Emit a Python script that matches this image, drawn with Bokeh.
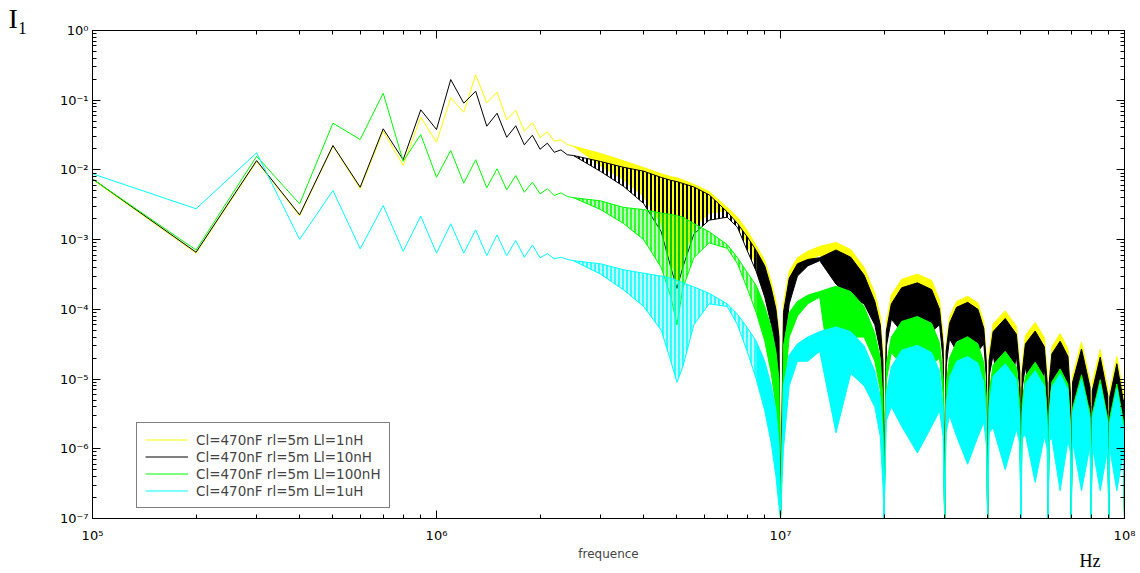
import numpy as np
from bokeh.plotting import figure
from bokeh.models import (LogAxis, LogTicker, CustomJSTickFormatter, Title,
                          Legend, LegendItem, Range1d)
from bokeh.embed import file_html
from bokeh.resources import INLINE

# ---------------- data ----------------
labels = ["Cl=470nF rl=5m Ll=1nH", "Cl=470nF rl=5m Ll=10nH",
          "Cl=470nF rl=5m Ll=100nH", "Cl=470nF rl=5m Ll=1uH"]
colors = ["#FFFF00", "#000000", "#00FF00", "#00FFFF"]
band_fill_alpha = [0.9, 0.0, 0.25, 0.25]
hatch_weight = [1.5, 2.0, 1.5, 1.5]

# individual harmonics (MHz) 0.1 ... 2.5
harm_mhz = [0.1, 0.2, 0.3, 0.4, 0.5, 0.6, 0.7, 0.8, 0.9, 1.0, 1.1, 1.2, 1.3,
            1.4, 1.5, 1.6, 1.7, 1.8, 1.9, 2.0, 2.1, 2.2, 2.3, 2.4, 2.5]
i_yellow_h = [7.3e-3, 6.4e-4, 1.32e-2, 2.2e-3, 2.2e-2, 5.4e-3, 3.6e-2, 1.16e-2, 5.7e-2,
              2.5e-2, 0.108, 0.0673, 0.231, 0.0918, 0.130, 0.0523, 0.0712, 0.0359,
              0.0479, 0.0294, 0.0352, 0.0258, 0.027, 0.0231, 0.0219]
i_black_h = [7.45e-3, 6.6e-4, 1.36e-2, 2.27e-3, 2.24e-2, 5.65e-3, 3.89e-2, 1.40e-2, 7.28e-2,
             3.8e-2, 0.198, 0.0906, 0.1346, 0.0424, 0.065, 0.0294, 0.043, 0.0229,
             0.0315, 0.0198, 0.0242, 0.0179, 0.0194, 0.0165, 0.0161]
i_green_h = [7.4e-3, 7.1e-4, 1.57e-2, 3.26e-3, 4.68e-2, 2.73e-2, 0.126, 1.33e-2, 3.22e-2,
             7.85e-3, 1.9e-2, 6.44e-3, 1.40e-2, 5.54e-3, 1.04e-2, 5.18e-3, 8.3e-3, 4.79e-3,
             6.67e-3, 4.54e-3, 5.36e-3, 4.29e-3, 4.69e-3, 4.15e-3, 4.0e-3]
i_cyan_h = [8.8e-3, 2.77e-3, 1.76e-2, 1.01e-3, 5.06e-3, 7.4e-4, 3.08e-3, 6.8e-4, 2.17e-3,
            6.4e-4, 1.69e-3, 6.4e-4, 1.38e-3, 5.9e-4, 1.17e-3, 5.9e-4, 9.7e-4, 5.6e-4,
            8.4e-4, 5.5e-4, 6.3e-4, 5.3e-4, 5.6e-4, 5.2e-4, 5.0e-4]

# dense part: upper / lower envelope of the harmonic comb (MHz)
env_mhz = [2.5, 3.0, 3.5, 4.0, 4.5, 4.8, 5.0, 5.2, 5.6, 6.2, 7.0, 7.5, 8.0, 8.5, 9.0, 9.4, 9.7, 9.9, 10.0,
           10.2, 10.6, 11.2, 12, 13, 14.5, 16, 17.5, 18.8, 19.5, 19.85, 20,
           20.3, 21, 22.5, 25, 27.5, 29, 29.7, 30,
           30.3, 31, 32.5, 35, 37.5, 39, 39.7, 40,
           40.4, 41.5, 45, 48.5, 49.6, 50,
           50.4, 51.5, 55, 58.5, 59.6, 60,
           60.4, 61.5, 65, 68.5, 69.6, 70,
           70.6, 75, 79.4, 80,
           80.6, 85, 89.4, 90,
           90.6, 95, 99.4, 100]

up_yellow = [0.0219, 0.0172, 0.0135, 0.0108, 0.0088, 0.0080, 0.0077, 0.0072, 0.0062, 0.0049, 0.0029, 0.0021, 0.00135, 0.00082, 0.00050, 0.00025, 0.00013, 0.00005, 1e-7,
             1.2e-4, 3.5e-4, 5.5e-4, 6.8e-4, 8.0e-4, 9.1e-4, 7.2e-4, 4.0e-4, 1.7e-4, 8e-5, 2.5e-5, 1e-7,
             6.4e-5, 1.6e-4, 2.7e-4, 3.2e-4, 2.6e-4, 1.35e-4, 4.2e-5, 1e-7,
             3.1e-5, 7.7e-5, 1.3e-4, 1.54e-4, 1.23e-4, 6.5e-5, 2e-5, 1e-7,
             2.4e-5, 6.2e-5, 9.5e-5, 5.7e-5, 1.7e-5, 1e-7,
             1.6e-5, 4.2e-5, 6.5e-5, 3.9e-5, 1.2e-5, 1e-7,
             1.1e-5, 2.9e-5, 4.5e-5, 2.7e-5, 8.1e-6, 1e-7,
             1.1e-5, 3.4e-5, 9.5e-6, 1e-7,
             8.7e-6, 2.65e-5, 7.4e-6, 1e-7,
             6.9e-6, 2.1e-5, 5.9e-6, 1e-7]
lo_yellow = [0.0219, 0.0115, 0.0072, 0.0042, 0.0017, 0.0005, 0.00025, 0.0005, 0.0015, 0.0024, 0.0026, 0.0018, 0.00085, 0.00042, 0.00018, 0.00007, 0.000018, 0.0000036, 1e-7,
             2.5e-5, 1.5e-4, 3.6e-4, 5e-4, 6e-4, 2.8e-4, 1.8e-4, 1.4e-4, 7e-5, 3e-5, 6e-6, 1e-7,
             3.8e-5, 9.6e-5, 6.4e-5, 9.6e-6, 6.4e-5, 8e-5, 2.6e-5, 1e-7,
             1.8e-5, 4.6e-5, 3.1e-5, 4.6e-6, 3.1e-5, 3.9e-5, 1.2e-5, 1e-7,
             1.4e-5, 2.9e-5, 3.8e-6, 2.7e-5, 9.5e-6, 1e-7,
             9.8e-6, 2e-5, 2.6e-6, 1.8e-5, 6.5e-6, 1e-7,
             6.8e-6, 1.35e-5, 1.8e-6, 1.26e-5, 4.5e-6, 1e-7,
             6.8e-6, 1.7e-6, 5.8e-6, 1e-7,
             5.3e-6, 1.3e-6, 4.5e-6, 1e-7,
             4.2e-6, 1.05e-6, 3.6e-6, 1e-7]

up_black = [0.0161, 0.0132, 0.0109, 0.0096, 0.0078, 0.0071, 0.0068, 0.0064, 0.0057, 0.0044, 0.0025, 0.0017, 0.0011, 0.0007, 0.00042, 0.0002, 0.0001, 0.00004, 1e-7,
            9e-5, 2.8e-4, 4.5e-4, 5.2e-4, 5.5e-4, 7.1e-4, 5.6e-4, 3.1e-4, 1.3e-4, 6e-5, 1.8e-5, 1e-7,
            4.8e-5, 1.2e-4, 2.04e-4, 2.4e-4, 1.92e-4, 1.0e-4, 3.1e-5, 1e-7,
            2.5e-5, 6.3e-5, 1.07e-4, 1.26e-4, 1.0e-4, 5.3e-5, 1.6e-5, 1e-7,
            1.85e-5, 4.8e-5, 7.4e-5, 4.4e-5, 1.3e-5, 1e-7,
            1.2e-5, 3.2e-5, 4.9e-5, 2.9e-5, 8.8e-6, 1e-7,
            8.8e-6, 2.3e-5, 3.5e-5, 2.1e-5, 6.3e-6, 1e-7,
            8.9e-6, 2.7e-5, 7.6e-6, 1e-7,
            6.8e-6, 2.07e-5, 5.8e-6, 1e-7,
            5.5e-6, 1.66e-5, 4.6e-6, 1e-7]
lo_black = [0.0161, 0.0095, 0.0058, 0.0033, 0.0013, 0.0004, 0.0002, 0.0004, 0.0012, 0.0019, 0.0021, 0.0015, 0.0007, 0.00035, 0.00015, 0.00006, 0.000015, 0.000003, 1e-7,
            2e-5, 1.2e-4, 3e-4, 4.2e-4, 5e-4, 2.3e-4, 1.5e-4, 1.2e-4, 6e-5, 2.5e-5, 5e-6, 1e-7,
            2.9e-5, 7.2e-5, 4.8e-5, 7.2e-6, 4.8e-5, 6e-5, 1.9e-5, 1e-7,
            1.5e-5, 3.8e-5, 2.5e-5, 3.8e-6, 2.5e-5, 3.2e-5, 1e-5, 1e-7,
            1.1e-5, 2.2e-5, 3e-6, 2.1e-5, 7.4e-6, 1e-7,
            7.4e-6, 1.5e-5, 2e-6, 1.4e-5, 4.9e-6, 1e-7,
            5.3e-6, 1.05e-5, 1.4e-6, 9.8e-6, 3.5e-6, 1e-7,
            5.4e-6, 1.35e-6, 4.6e-6, 1e-7,
            4.1e-6, 1e-6, 3.5e-6, 1e-7,
            3.3e-6, 8.3e-7, 2.8e-6, 1e-7]

up_green = [0.0040, 0.0036, 0.0029, 0.0027, 0.0024, 0.0023, 0.0022, 0.0021, 0.0017, 0.0013, 0.00085, 0.00055, 0.00034, 0.00022, 0.00011, 0.000055, 0.000025, 0.00001, 1e-7,
            3e-5, 9e-5, 1.3e-4, 1.6e-4, 1.8e-4, 2.15e-4, 1.8e-4, 1.1e-4, 4.5e-5, 2e-5, 5e-6, 1e-7,
            1.6e-5, 4e-5, 6.7e-5, 7.9e-5, 6.3e-5, 3.3e-5, 1e-5, 1e-7,
            8.1e-6, 2e-5, 3.4e-5, 4.05e-5, 3.2e-5, 1.7e-5, 5.3e-6, 1e-7,
            6.3e-6, 1.6e-5, 2.5e-5, 1.5e-5, 4.5e-6, 1e-7,
            4.4e-6, 1.1e-5, 1.75e-5, 1.05e-5, 3.2e-6, 1e-7,
            3.5e-6, 9.1e-6, 1.4e-5, 8.4e-6, 2.5e-6, 1e-7,
            3.8e-6, 1.15e-5, 3.2e-6, 1e-7,
            3.2e-6, 9.8e-6, 2.7e-6, 1e-7,
            2.8e-6, 8.5e-6, 2.4e-6, 1e-7]
lo_green = [0.0040, 0.0027, 0.0017, 0.0010, 0.0004, 0.00015, 0.00006, 0.0002, 0.00055, 0.0009, 0.00075, 0.00045, 0.0002, 0.00009, 0.000035, 0.000012, 0.000004, 0.000001, 1e-7,
            5e-6, 4e-5, 8e-5, 1.2e-4, 1.5e-4, 3e-6, 4e-5, 4e-5, 1.8e-5, 7e-6, 1.5e-6, 1e-7,
            9.5e-6, 2.4e-5, 1.6e-5, 2.4e-6, 1.6e-5, 2e-5, 6.3e-6, 1e-7,
            4.9e-6, 1.2e-5, 8.1e-6, 1.2e-6, 8.1e-6, 1e-5, 3.2e-6, 1e-7,
            3.8e-6, 7.5e-6, 1e-6, 7e-6, 2.5e-6, 1e-7,
            2.6e-6, 5.3e-6, 7e-7, 4.9e-6, 1.75e-6, 1e-7,
            2.1e-6, 4.2e-6, 5.6e-7, 3.9e-6, 1.4e-6, 1e-7,
            2.3e-6, 5.8e-7, 2e-6, 1e-7,
            2e-6, 4.9e-7, 1.7e-6, 1e-7,
            1.7e-6, 4.3e-7, 1.4e-6, 1e-7]

up_cyan = [5.0e-4, 4.5e-4, 3.7e-4, 3.3e-4, 3.0e-4, 2.8e-4, 2.6e-4, 2.4e-4, 2.1e-4, 1.7e-4, 1.2e-4, 8.5e-5, 5.5e-5, 3.5e-5, 1.8e-5, 8e-6, 3.5e-6, 1.2e-6, 1e-7,
           8e-6, 2.2e-5, 3.2e-5, 4e-5, 4.8e-5, 5.6e-5, 4.8e-5, 3e-5, 1.3e-5, 5.5e-6, 1.5e-6, 1e-7,
           6.1e-6, 1.5e-5, 2.6e-5, 3.05e-5, 2.4e-5, 1.3e-5, 4e-6, 1e-7,
           4.2e-6, 1.05e-5, 1.8e-5, 2.1e-5, 1.7e-5, 8.8e-6, 2.7e-6, 1e-7,
           4.2e-6, 1.1e-5, 1.66e-5, 1e-5, 3e-6, 1e-7,
           3.3e-6, 8.6e-6, 1.32e-5, 7.9e-6, 2.4e-6, 1e-7,
           3e-6, 7.7e-6, 1.19e-5, 7.1e-6, 2.1e-6, 1e-7,
           3.3e-6, 1e-5, 2.8e-6, 1e-7,
           2.8e-6, 8.5e-6, 2.4e-6, 1e-7,
           2.4e-6, 7.3e-6, 2e-6, 1e-7]
lo_cyan = [5.0e-4, 3.2e-4, 1.9e-4, 1.1e-4, 5e-5, 1.8e-5, 9e-6, 1.5e-5, 6e-5, 1.2e-4, 1.1e-4, 6e-5, 2.5e-5, 1e-5, 3.5e-6, 1.2e-6, 4e-7, 1.5e-7, 1e-7,
           1e-6, 8e-6, 1.8e-5, 1.8e-5, 2.5e-5, 1.7e-6, 1.2e-5, 8e-6, 4e-6, 1.5e-6, 3e-7, 1e-7,
           2.5e-6, 4e-6, 2.1e-6, 8.7e-7, 2.1e-6, 3.5e-6, 1.5e-6, 1e-7,
           1.7e-6, 3e-6, 1.5e-6, 6e-7, 1.5e-6, 2.4e-6, 1.1e-6, 1e-7,
           1.7e-6, 2e-6, 5e-7, 1.9e-6, 1.2e-6, 1e-7,
           1.4e-6, 1.6e-6, 3.3e-7, 1.5e-6, 1e-6, 1e-7,
           1.3e-6, 1.4e-6, 2.5e-7, 1.3e-6, 9e-7, 1e-7,
           1.3e-6, 2.5e-7, 1.1e-6, 1e-7,
           1.1e-6, 2.5e-7, 1e-6, 1e-7,
           1e-6, 2.5e-7, 9e-7, 1e-7]

x_ticks_hz = [1e5, 1e6, 1e7, 1e8]
y_ticks = [1e-7, 1e-6, 1e-5, 1e-4, 1e-3, 1e-2, 1e-1, 1e0]

# ---------------- figure ----------------
FONT = "DejaVu Sans"
p = figure(width=1140, height=573, x_axis_type="log", y_axis_type="log",
           x_range=Range1d(1e5, 1e8), y_range=Range1d(1e-7, 1.0),
           output_backend="svg", toolbar_location=None,
           min_border_left=92, min_border_right=16, min_border_top=30, min_border_bottom=55)
p.title.visible = False
p.xgrid.visible = False
p.ygrid.visible = False
p.outline_line_color = "black"
p.background_fill_color = "white"
p.border_fill_color = "white"

bottom_ax = p.below[0]
left_ax = p.left[0]

sup_fmt = CustomJSTickFormatter(code="""
const s = {"-":"\u207b","0":"\u2070","1":"\u00b9","2":"\u00b2","3":"\u00b3","4":"\u2074",
           "5":"\u2075","6":"\u2076","7":"\u2077","8":"\u2078","9":"\u2079"};
const e = Math.round(Math.log10(tick));
return "10" + String(e).split("").map(c => s[c]).join("");
""")
blank_fmt = CustomJSTickFormatter(code="return '';")

top_ax = LogAxis(formatter=blank_fmt)
right_ax = LogAxis(formatter=blank_fmt)
p.add_layout(top_ax, "above")
p.add_layout(right_ax, "right")

for ax, ticks in [(bottom_ax, x_ticks_hz), (top_ax, x_ticks_hz),
                  (left_ax, y_ticks), (right_ax, y_ticks)]:
    ax.ticker = LogTicker(num_minor_ticks=10, desired_num_ticks=len(ticks))
    ax.major_tick_in = 8
    ax.major_tick_out = 0
    ax.minor_tick_in = 4
    ax.minor_tick_out = 0
    ax.axis_line_color = "black"
    ax.major_tick_line_color = "black"
    ax.minor_tick_line_color = "black"
    ax.major_label_text_font = FONT
    ax.major_label_text_font_size = "13px"
    ax.major_label_text_color = "black"

for ax in (top_ax, right_ax):
    ax.major_label_text_font_size = "0px"
    ax.major_label_standoff = 0

bottom_ax.formatter = sup_fmt
left_ax.formatter = sup_fmt
bottom_ax.major_label_standoff = 9
left_ax.major_label_standoff = 4
bottom_ax.axis_label = "frequence"
bottom_ax.axis_label_text_font = FONT
bottom_ax.axis_label_text_font_size = "12px"
bottom_ax.axis_label_text_font_style = "normal"
bottom_ax.axis_label_standoff = 1

# quantity and unit, as titles in the side panels
p.add_layout(Title(text="I\u2081", align="left", offset=-84, standoff=-6,
                   text_font="Liberation Serif", text_font_size="28px",
                   text_font_style="normal", text_color="black"), "above")
p.add_layout(Title(text="Hz", align="right", offset=24, standoff=-26,
                   vertical_align="top",
                   text_font="Liberation Serif", text_font_size="18px",
                   text_font_style="normal", text_color="black"), "below")

# ---------------- glyphs ----------------
harm_hz = np.array(harm_mhz) * 1e6
env_hz = np.array(env_mhz) * 1e6
mask_a = env_hz <= 8.5e6
mask_b = env_hz >= 8.5e6

series = [(i_yellow_h, up_yellow, lo_yellow), (i_black_h, up_black, lo_black),
          (i_green_h, up_green, lo_green), (i_cyan_h, up_cyan, lo_cyan)]
items = []
for (vals_h, up, lo), col, lab, fa, hw in zip(series, colors, labels, band_fill_alpha, hatch_weight):
    up = np.array(up)
    lo = np.array(lo)
    r = p.line(harm_hz, vals_h, line_color=col, line_width=1)
    items.append(LegendItem(label=lab, renderers=[r]))
    # comb region still resolved into separate lines: hatched band
    p.varea(x=env_hz[mask_a], y1=lo[mask_a], y2=up[mask_a], fill_color=col, fill_alpha=fa,
            hatch_pattern="|", hatch_color=col, hatch_scale=4, hatch_weight=hw, hatch_alpha=1.0)
    # comb region too dense to resolve: solid band
    p.varea(x=env_hz[mask_b], y1=lo[mask_b], y2=up[mask_b], fill_color=col, fill_alpha=1.0)
    p.line(env_hz, up, line_color=col, line_width=1)
    p.line(env_hz, lo, line_color=col, line_width=1)

legend = Legend(items=items, location=(44, 10))
legend.border_line_color = "black"
legend.border_line_width = 1
legend.background_fill_color = "white"
legend.background_fill_alpha = 1
legend.label_text_font = FONT
legend.label_text_font_size = "13.5px"
legend.glyph_width = 43
legend.glyph_height = 17
legend.label_height = 17
legend.spacing = 0
legend.padding = 8
legend.margin = 0
legend.label_standoff = 8
p.add_layout(legend)

open("out.html", "w").write(file_html(p, INLINE))
